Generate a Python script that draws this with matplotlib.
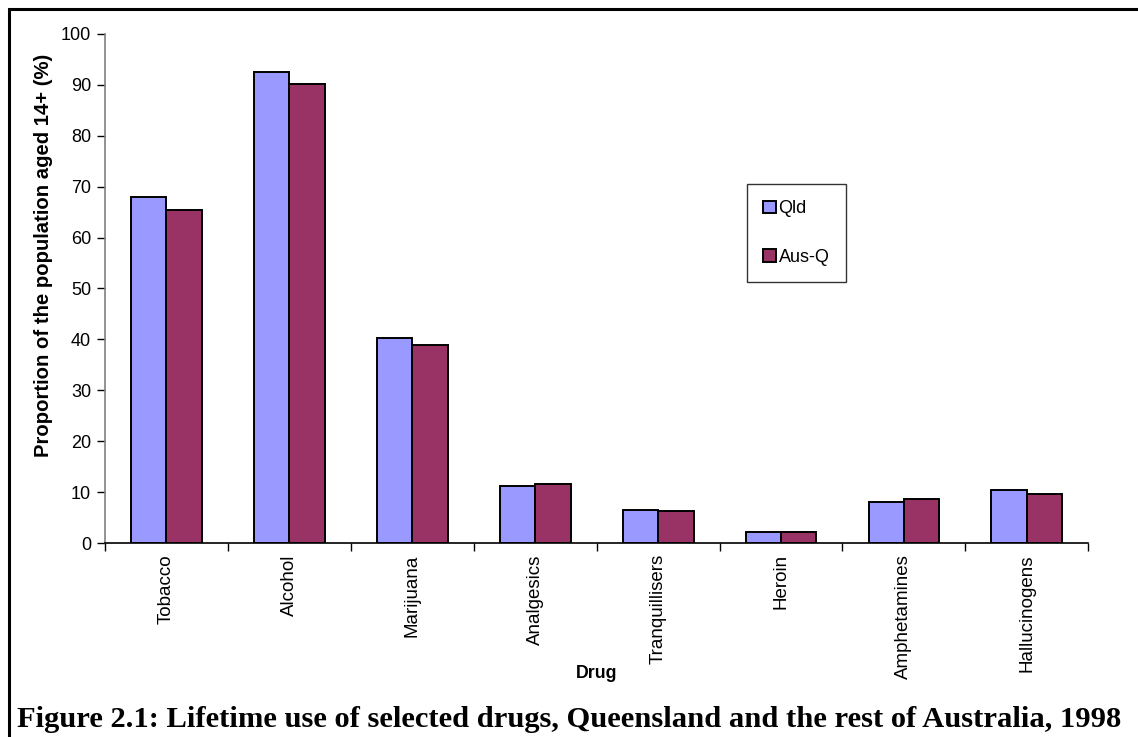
"""Lifetime drug use bar chart, Queensland vs rest of Australia."""
import matplotlib
matplotlib.use("Agg")
import matplotlib.pyplot as plt
from matplotlib.patches import Rectangle
import numpy as np

drugs = ["Tobacco", "Alcohol", "Marijuana", "Analgesics", "Tranquillisers",
         "Heroin", "Amphetamines", "Hallucinogens"]
qld = [68.0, 92.5, 40.3, 11.2, 6.4, 2.2, 8.0, 10.4]
aus_q = [65.4, 90.2, 38.9, 11.5, 6.2, 2.2, 8.6, 9.7]
series_names = ["Qld", "Aus-Q"]
yticks = [0, 10, 20, 30, 40, 50, 60, 70, 80, 90, 100]

plt.rcParams["font.family"] = ["Liberation Sans", "DejaVu Sans"]

fig = plt.figure(figsize=(11.38, 7.37), dpi=100)
ax = fig.add_axes([0.0923, 0.2632, 0.8640, 0.6907])

x = np.arange(len(drugs))
w = 0.288
ax.bar(x - w / 2, qld, w, color="#9999FF", edgecolor="black", linewidth=1.4,
       label=series_names[0], zorder=3)
ax.bar(x + w / 2, aus_q, w, color="#993366", edgecolor="black", linewidth=1.4,
       label=series_names[1], zorder=3)

ax.set_xlim(-0.5, len(drugs) - 0.5)
ax.set_ylim(0, 100)
ax.set_yticks(yticks)
ax.tick_params(axis="y", labelsize=13, length=6, width=1, direction="out", pad=4)

# category labels sit between the boundary ticks
ax.set_xticks(np.arange(len(drugs) + 1) - 0.5)
ax.set_xticklabels([])
ax.set_xticks(x, minor=True)
ax.set_xticklabels(drugs, minor=True, rotation=90, fontsize=13.5)
ax.tick_params(axis="x", which="major", length=6, width=1, direction="out")
ax.tick_params(axis="x", which="minor", length=0, pad=8)

for s in ["top", "right"]:
    ax.spines[s].set_visible(False)
ax.spines["left"].set_color("#808080")
ax.spines["left"].set_linewidth(1.2)
ax.spines["bottom"].set_linewidth(1.2)

ax.set_xlabel("Drug", fontsize=12.8, fontweight="bold")
ax.xaxis.set_label_coords(0.5, -0.2397)
ax.set_ylabel("Proportion of the population aged 14+ (%)", fontsize=14.6,
              fontweight="bold")
ax.yaxis.set_label_coords(-0.053, 0.566)

leg = fig.legend(loc="upper left", bbox_to_anchor=(747 / 1138, 1 - 184 / 737),
                 fontsize=13, frameon=True, fancybox=False, borderpad=0.9,
                 labelspacing=1.75, handlelength=0.7, handleheight=0.7,
                 handletextpad=0.15, borderaxespad=0)
leg.get_frame().set_edgecolor("black")
leg.get_frame().set_linewidth(1.0)

# outer frame running off the right and bottom edges
fig.patches.append(Rectangle((9 / 1138, -0.05), 1.2, 1 - 9 / 737 + 0.05,
                             transform=fig.transFigure, fill=False,
                             edgecolor="black", linewidth=2.2))

fig.text(17 / 1138, 1 - 727 / 737,
         "Figure 2.1: Lifetime use of selected drugs, Queensland and the rest of Australia, 1998",
         fontsize=21.95, fontweight="bold", family=["Liberation Serif", "DejaVu Serif"],
         ha="left", va="baseline")

fig.savefig("out.png", dpi=100)
